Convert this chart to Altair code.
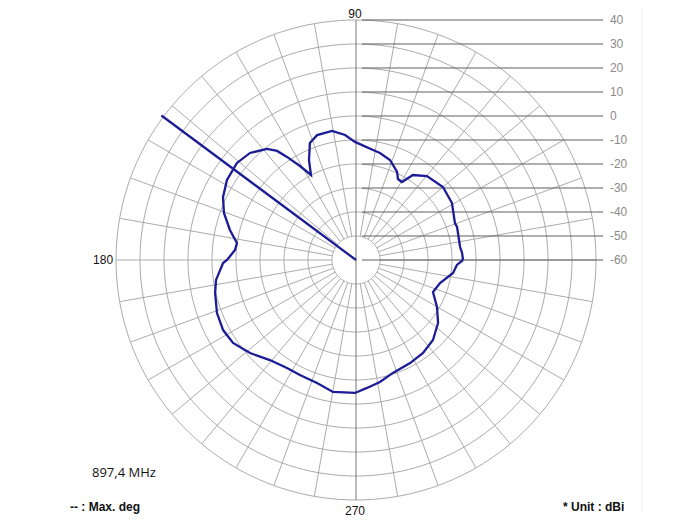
import altair as alt
import pandas as pd

# ---- data ----
angles = [0, 3.8, 7.1, 12.5, 18.1, 20.5, 30.7, 40.0, 49.8, 56.2, 59.5, 62.6, 65.0, 71.2, 77.4,
          81.2, 90.5, 95.0, 100.5, 107.3, 111.5, 115.2, 117.9, 120.8, 123.8, 125.9, 128.7,
          134.7, 140.8, 148.2, 154.7, 160.4, 166.6, 171.9, 175.3, 180, 181.3, 188.1, 193.2,
          200.9, 207.8, 214.0, 221.3, 229.3, 237.4, 244.0, 252.4, 260.1, 269.6, 274.9, 281.1,
          288.1, 297.7, 305.8, 313.9, 322.5, 329.9, 337.4, 344.7, 352.4, 357.2, 360]
gains = [-15.4, -15.7, -16.3, -16.2, -15.7, -16.0, -13.5, -12.7, -14.2, -17.4, -22.3, -22.0,
         -19.5, -16.0, -14.3, -13.6, -10.8, -7.7, -5.3, -5.5, -7.6, -14.0, -19.9, -14.4, -8.3,
         -3.9, -0.7, 2.75, 4.0, 3.25, 1.3, -1.6, -6.0, -9.9, -9.4, -6.25, -4.6, -1.1, 0.3, 2.0,
         2.6, 1.8, -1.25, -5.0, -6.6, -6.7, -6.25, -4.2, -4.6, -6.5, -8.2, -10.5, -11.5, -12.25,
         -13.75, -16.9, -21.0, -25.25, -23.7, -19.2, -17.9, -15.4]
max_deg = [143.4]
db_ticks = [40, 30, 20, 10, 0, -10, -20, -30, -40, -50, -60]
rings_db = [-50, -40, -30, -20, -10, 0, 10, 20, 30, 40]
spoke_deg = [a for a in range(0, 360, 10) if a not in (90, 270)]
angle_labels = ["90", "180", "270"]
angle_label_deg = [90, 180, 270]
freq_text = "897,4 MHz"
legend_text = "-- : Max. deg"
unit_text = "* Unit : dBi"

FLOOR = -60  # dB at the centre

W, H = 680, 500
xs = alt.Scale(domain=[-145, 138.333], nice=False, zero=False)
ys = alt.Scale(domain=[-107.5, 100.833], nice=False, zero=False)


def X(f):
    return alt.X(f, type="quantitative", scale=xs, axis=None)


def Y(f):
    return alt.Y(f, type="quantitative", scale=ys, axis=None)


# rings
ring_df = pd.DataFrame([{"ring": r, "t": t} for r in rings_db for t in range(0, 361, 2)])
rings = alt.Chart(ring_df).transform_calculate(
    x=f"(datum.ring - {FLOOR}) * cos(datum.t * PI / 180)",
    y=f"(datum.ring - {FLOOR}) * sin(datum.t * PI / 180)",
).mark_line(color="#ababab", strokeWidth=1).encode(
    x=X("x"), y=Y("y"), detail="ring:N", order="t:Q"
)

# spokes
spoke_df = pd.DataFrame({"a": spoke_deg})
spokes = alt.Chart(spoke_df).transform_calculate(
    x=f"({min(rings_db)} - {FLOOR}) * cos(datum.a * PI / 180)",
    y=f"({min(rings_db)} - {FLOOR}) * sin(datum.a * PI / 180)",
    x2=f"({max(rings_db)} - {FLOOR}) * cos(datum.a * PI / 180)",
    y2=f"({max(rings_db)} - {FLOOR}) * sin(datum.a * PI / 180)",
).mark_rule(color="#ababab", strokeWidth=1).encode(
    x=X("x"), y=Y("y"), x2="x2:Q", y2="y2:Q"
)

# vertical axis line 90-270
vaxis = alt.Chart(pd.DataFrame({"a": [0]})).transform_calculate(
    x="0", y=f"{max(rings_db) - FLOOR}", y2=f"{FLOOR - max(rings_db)}"
).mark_rule(color="#8c8c8c", strokeWidth=1.2).encode(x=X("x"), y=Y("y"), y2="y2:Q")

# dB scale lines and labels
tick_df = pd.DataFrame({"db": db_ticks})
tick_lines = alt.Chart(tick_df).transform_calculate(
    y=f"datum.db - {FLOOR}", x="2.5", x2="103"
).mark_rule(color="#5f5f5f", strokeWidth=1).encode(x=X("x"), x2="x2:Q", y=Y("y"))
tick_text = alt.Chart(tick_df).transform_calculate(
    y=f"datum.db - {FLOOR}", x="105.8", lab="datum.db + ''"
).mark_text(align="left", baseline="middle", font="Liberation Sans", fontSize=12,
            color="#8a8a8a").encode(x=X("x"), y=Y("y"), text="lab:N")

# angle labels
ang_df = pd.DataFrame({"lab": angle_labels, "deg": angle_label_deg})
ang_text_c = alt.Chart(ang_df).transform_filter("datum.deg != 180").transform_calculate(
    x="104.2 * cos(datum.deg * PI / 180) - 0.4",
    y="(datum.deg == 90 ? 102.4 : 104.4) * sin(datum.deg * PI / 180)",
).mark_text(align="center", baseline="middle", font="Liberation Sans", fontSize=12,
            color="#111111").encode(x=X("x"), y=Y("y"), text="lab:N")
ang_text_r = alt.Chart(ang_df).transform_filter("datum.deg == 180").transform_calculate(
    x="101.2 * cos(datum.deg * PI / 180)",
    y="101.2 * sin(datum.deg * PI / 180)",
).mark_text(align="right", baseline="middle", font="Liberation Sans", fontSize=12,
            color="#111111").encode(x=X("x"), y=Y("y"), text="lab:N")

# pattern curve
pat_df = pd.DataFrame({"deg": angles, "g": gains, "i": list(range(len(angles)))})
curve = alt.Chart(pat_df).transform_calculate(
    x=f"(datum.g - {FLOOR}) * cos(datum.deg * PI / 180)",
    y=f"(datum.g - {FLOOR}) * sin(datum.deg * PI / 180)",
).mark_line(color="#1c1c96", strokeWidth=2.3).encode(x=X("x"), y=Y("y"), order="i:Q")

# max direction line
max_df = pd.DataFrame({"deg": max_deg})
maxline = alt.Chart(max_df).transform_calculate(
    x="0", y="0",
    x2="101 * cos(datum.deg * PI / 180)",
    y2="101 * sin(datum.deg * PI / 180)",
).mark_rule(color="#1c1c96", strokeWidth=2.3).encode(x=X("x"), y=Y("y"), x2="x2:Q", y2="y2:Q")

one = pd.DataFrame({"a": [0]})
freq = alt.Chart(one).mark_text(align="left", baseline="middle", font="Open Sans",
                                fontSize=13, color="#111111").encode(
    x=alt.value(84), y=alt.value(455), text=alt.value(freq_text))
legend = alt.Chart(one).mark_text(align="left", baseline="middle", font="Liberation Sans",
                                  fontSize=12, fontWeight="bold", color="#111111").encode(
    x=alt.value(62), y=alt.value(489), text=alt.value(legend_text))
unit = alt.Chart(one).mark_text(align="left", baseline="middle", font="Liberation Sans",
                                fontSize=12, fontWeight="bold", color="#111111").encode(
    x=alt.value(555), y=alt.value(489), text=alt.value(unit_text))
border = alt.Chart(one).mark_rule(color="#eeeeee", strokeWidth=1).encode(
    x=alt.value(634), y=alt.value(-13), y2=alt.value(495))

chart = alt.layer(
    border, rings, spokes, vaxis, tick_lines, tick_text, ang_text_c, ang_text_r,
    curve, maxline, freq, legend, unit
).properties(
    width=W, height=H, autosize=alt.AutoSizeParams(type="none"),
    padding={"left": 0, "top": 10, "right": 0, "bottom": 0},
    background="white"
).configure_view(stroke=None)

chart.save("out.html", embed_options={"renderer": "svg", "actions": False})
